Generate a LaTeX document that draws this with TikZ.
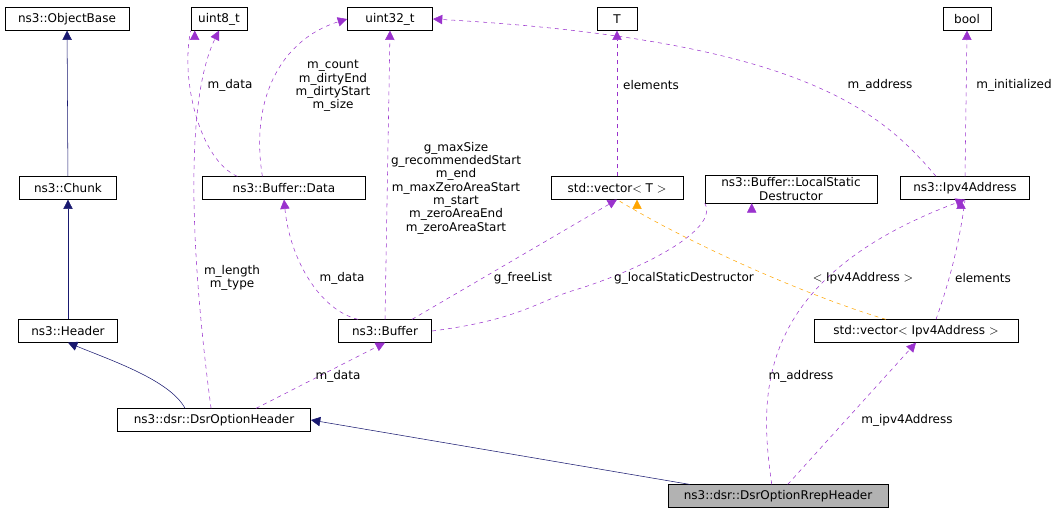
\documentclass[tikz,border=0pt]{standalone}
\usepackage{fontspec}
\setmainfont{DejaVu Sans}
\usetikzlibrary{arrows.meta}
\definecolor{navy}{RGB}{25,25,112}
\definecolor{usage}{RGB}{154,50,205}
\definecolor{tmpl}{RGB}{255,165,0}
\begin{document}
\begin{tikzpicture}[x=0.75pt,y=-0.75pt,
    cls/.style={draw, rectangle, inner sep=2pt, minimum height=17pt, font=\fontsize{9}{10}\selectfont, align=center},
    inherit/.style={navy, -{Triangle[length=7pt,width=7pt]}},
    use/.style={usage, dashed, -{Triangle[length=7pt,width=7pt]}},
    inst/.style={tmpl, dashed, -{Triangle[length=7pt,width=7pt]}},
    lbl/.style={font=\fontsize{9}{10}\selectfont, align=center}]
  \useasboundingbox (0,0) rectangle (1063,516);

  % Classes
  \node[cls, minimum width=93pt] (ObjectBase) at (67,19) {ns3::ObjectBase};
  \node[cls, minimum width=73pt] (Chunk) at (68,188) {ns3::Chunk};
  \node[cls, minimum width=74pt] (Header) at (68,331) {ns3::Header};
  \node[cls, minimum width=145pt] (OptHeader) at (214,420) {ns3::dsr::DsrOptionHeader};
  \node[cls, fill=black!30, minimum width=165pt] (RrepHeader) at (778,496) {ns3::dsr::DsrOptionRrepHeader};
  \node[cls, minimum width=42pt] (Uint8) at (219,19) {uint8\_t};
  \node[cls, minimum width=64pt] (Uint32) at (390,19) {uint32\_t};
  \node[cls, minimum width=30pt] (T) at (617,19) {T};
  \node[cls, minimum width=36pt] (Bool) at (967,19) {bool};
  \node[cls, minimum width=122pt] (Data) at (284,188) {ns3::Buffer::Data};
  \node[cls, minimum width=99pt] (VectorT) at (617,188) {std::vector$<$ T $>$};
  \node[cls, minimum width=129pt] (Destructor) at (791,189) {ns3::Buffer::LocalStatic\\Destructor};
  \node[cls, minimum width=97pt] (Ipv4) at (965,188) {ns3::Ipv4Address};
  \node[cls, minimum width=70pt] (Buffer) at (385,331) {ns3::Buffer};
  \node[cls, minimum width=153pt] (VectorIpv4) at (916,331) {std::vector$<$ Ipv4Address $>$};

  % Inheritance
  \draw[inherit] (Chunk) -- (ObjectBase);
  \draw[inherit] (Header) -- (Chunk);
  \draw[inherit] (OptHeader.north west) ++(68,0) .. controls (170,380) and (110,360) .. (Header.south);
  \draw[inherit] (RrepHeader.north west) ++(22,0) -- (OptHeader.east);

  % Usage
  \draw[use] (Data.north west) ++(35,0) .. controls (200,160) and (180,80) .. (Uint8.south west) ++(4,0);
  \draw[use] (OptHeader.north west) ++(94,0) .. controls (190,250) and (185,100) .. (Uint8.south);
  \draw[use] (Data.north west) ++(60,0) .. controls (250,100) and (280,40) .. (Uint32.west);
  \draw[use] (Buffer.north) -- (Uint32.south);
  \draw[use] (Ipv4.north west) ++(36,0) .. controls (880,110) and (800,40) .. (Uint32.east);
  \draw[use] (Ipv4.north) -- (Bool.south);
  \draw[use] (VectorT.north) -- (T.south);
  \draw[use] (Buffer.north west) ++(20,0) .. controls (320,310) and (290,260) .. (Data.south);
  \draw[use] (Buffer.north east) ++(-20,0) -- (VectorT.south);
  \draw[use] (Buffer.east) .. controls (520,320) and (540,300) .. (575,290) .. controls (640,270) and (720,230) .. (Destructor.south west) ++(47,0);
  \draw[use] (OptHeader.north east) ++(-55,0) -- (Buffer.south);
  \draw[use] (RrepHeader.north west) ++(104,0) .. controls (760,400) and (750,280) .. (Ipv4.south);
  \draw[use] (VectorIpv4.north) ++(20,0) .. controls (950,280) and (960,240) .. (Ipv4.south) ++(-4,0);
  \draw[use] (RrepHeader.north west) ++(120,0) -- (VectorIpv4.south);
  \draw[inst] (VectorIpv4.north) ++(-30,0) .. controls (820,300) and (700,250) .. (VectorT.south) ++(20,0);

  % Labels
  \node[lbl] at (230,85) {m\_data};
  \node[lbl, align=center] at (333,86) {m\_count\\m\_dirtyEnd\\m\_dirtyStart\\m\_size};
  \node[lbl] at (232,278) {m\_length\\m\_type};
  \node[lbl] at (456,188) {g\_maxSize\\g\_recommendedStart\\m\_end\\m\_maxZeroAreaStart\\m\_start\\m\_zeroAreaEnd\\m\_zeroAreaStart};
  \node[lbl] at (880,85) {m\_address};
  \node[lbl] at (1014,85) {m\_initialized};
  \node[lbl] at (651,85) {elements};
  \node[lbl] at (342,278) {m\_data};
  \node[lbl] at (523,278) {g\_freeList};
  \node[lbl] at (684,278) {g\_localStaticDestructor};
  \node[lbl] at (338,376) {m\_data};
  \node[lbl] at (863,278) {$<$ Ipv4Address $>$};
  \node[lbl] at (983,278) {elements};
  \node[lbl] at (801,376) {m\_address};
  \node[lbl] at (907,420) {m\_ipv4Address};
\end{tikzpicture}
\end{document}
